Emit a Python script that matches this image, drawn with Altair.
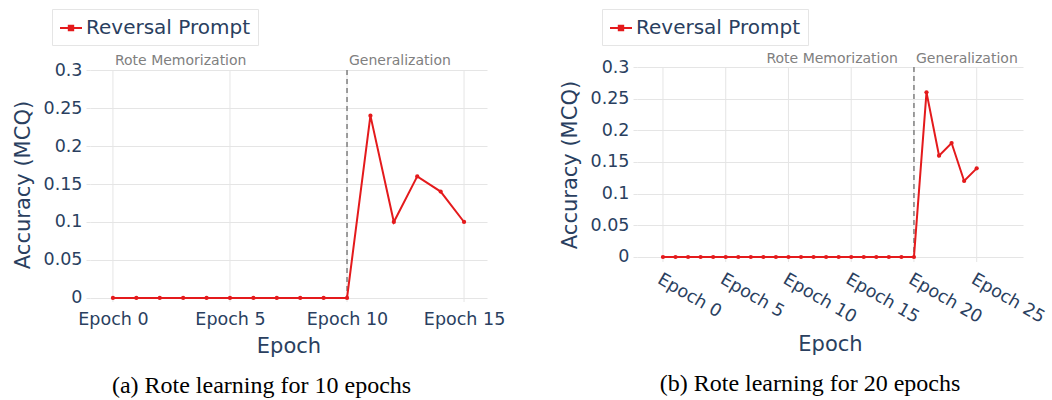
import altair as alt
import pandas as pd

# ---- data ----
series_name = "Reversal Prompt"

epochs_a = [0, 1, 2, 3, 4, 5, 6, 7, 8, 9, 10, 11, 12, 13, 14, 15]
acc_a = [0, 0, 0, 0, 0, 0, 0, 0, 0, 0, 0, 0.24, 0.10, 0.16, 0.14, 0.10]

epochs_b = [0, 1, 2, 3, 4, 5, 6, 7, 8, 9, 10, 11, 12, 13, 14, 15, 16, 17, 18, 19, 20,
            21, 22, 23, 24, 25]
acc_b = [0, 0, 0, 0, 0, 0, 0, 0, 0, 0, 0, 0, 0, 0, 0, 0, 0, 0, 0, 0, 0,
         0.26, 0.16, 0.18, 0.12, 0.14]

ticks_a = [0, 5, 10, 15]
ticks_b = [0, 5, 10, 15, 20, 25]
y_ticks = [0, 0.05, 0.1, 0.15, 0.2, 0.25, 0.3]

split_a = 10
split_b = 20
caption_a = "(a) Rote learning for 10 epochs"
caption_b = "(b) Rote learning for 20 epochs"
phase_left = "Rote Memorization"
phase_right = "Generalization"

RED = "#e41a1c"
FG = "#2a3f5f"
GRID = "#e5e5e5"
FONT = "DejaVu Sans"

legend_path = "M-1,0H1M-0.2,-0.2H0.2V0.2H-0.2Z"


def panel(epochs, acc, ticks, split, x_domain, y_domain, width, height,
          label_angle, caption, cap_dx, rote_x, rote_align, rote_dx, text_dy,
          legend_x, legend_y):
    df = pd.DataFrame({"epoch": epochs, "acc": acc, "series": [series_name] * len(epochs)})
    xs = alt.Scale(domain=x_domain, nice=False, zero=False)
    ys = alt.Scale(domain=y_domain, nice=False, zero=False)

    x_axis = alt.Axis(values=ticks, labelExpr="'Epoch ' + datum.value", grid=False,
                      ticks=False, domain=False, title="Epoch", labelAngle=label_angle,
                      labelPadding=8, titlePadding=8, labelOverlap=False,
                      labelAlign="left" if label_angle else "center",
                      labelBaseline="top")
    y_axis = alt.Axis(values=y_ticks, format="~g", title="Accuracy (MCQ)", grid=True,
                      gridColor=GRID, domain=False, tickSize=4, tickColor=GRID,
                      labelPadding=4, titlePadding=10, labelOverlap=False,
                      tickCount=7)

    grid_df = pd.DataFrame({"epoch": ticks})
    vgrid = alt.Chart(grid_df).mark_rule(color=GRID, strokeWidth=1).encode(
        x=alt.X("epoch:Q", scale=xs, axis=x_axis),
        y=alt.datum(0.3, scale=ys, axis=y_axis),
        y2=alt.value(height),
    )

    split_df = pd.DataFrame({"epoch": [split]})
    vline = alt.Chart(split_df).mark_rule(color="#7f7f7f", strokeWidth=1.5,
                                          strokeDash=[5, 4]).encode(
        x=alt.X("epoch:Q", scale=xs, axis=x_axis),
        y=alt.datum(0.3, scale=ys, axis=y_axis),
        y2=alt.datum(0),
    )

    line = alt.Chart(df).mark_line(
        strokeWidth=2,
        point=alt.OverlayMarkDef(size=18, filled=True, opacity=1),
    ).encode(
        x=alt.X("epoch:Q", scale=xs, axis=x_axis),
        y=alt.Y("acc:Q", scale=ys, axis=y_axis),
        color=alt.Color("series:N", scale=alt.Scale(domain=[series_name], range=[RED]),
                        legend=alt.Legend(
                            title=None, orient="none", legendX=legend_x, legendY=legend_y,
                            padding=7, strokeColor=GRID, fillColor="white",
                            labelFont=FONT, labelFontSize=20, labelColor=FG,
                            labelLimit=0,
                            labelOffset=3, symbolType=legend_path, symbolSize=484,
                            symbolStrokeWidth=2, symbolFillColor=RED,
                            symbolStrokeColor=RED, symbolOpacity=1)),
    )

    ann_df = pd.DataFrame({"epoch": [rote_x], "txt": [phase_left]})
    ann1 = alt.Chart(ann_df).mark_text(
        align=rote_align, baseline="alphabetic", dx=rote_dx, dy=text_dy,
        font=FONT, fontSize=14, color="#808080",
    ).encode(x=alt.X("epoch:Q", scale=xs, axis=x_axis),
             y=alt.datum(0.3, scale=ys, axis=y_axis), text="txt:N")

    ann2_df = pd.DataFrame({"epoch": [split], "txt": [phase_right]})
    ann2 = alt.Chart(ann2_df).mark_text(
        align="left", baseline="alphabetic", dx=2, dy=text_dy,
        font=FONT, fontSize=14, color="#808080",
    ).encode(x=alt.X("epoch:Q", scale=xs, axis=x_axis),
             y=alt.datum(0.3, scale=ys, axis=y_axis), text="txt:N")

    return alt.layer(vgrid, vline, line, ann1, ann2).properties(
        width=width, height=height,
        title=alt.TitleParams(caption, orient="bottom", font="Liberation Serif",
                              fontSize=24, fontWeight="normal", color="black",
                              anchor="middle", dx=cap_dx, offset=17),
    )


pa = panel(epochs_a, acc_a, ticks_a, split_a, [-0.98, 15.98], [-0.0053, 0.304],
           397, 235, 0, caption_a, -27, 0, "left", 2, -5, -38, -58)
pb = panel(epochs_b, acc_b, ticks_b, split_b, [-2.07, 28.69], [-0.0079, 0.3],
           386, 195, 30, caption_b, -20, split_b, "right", -16, -4, -35, -58)

chart = alt.hconcat(pa, pb, spacing=150, bounds="flush").resolve_scale(
    color="independent").resolve_legend(color="independent").configure_view(
    stroke=None).configure_axis(
    labelFont=FONT, labelFontSize=17.5, labelColor=FG,
    titleFont=FONT, titleFontSize=21, titleColor=FG, titleFontWeight="normal",
).properties(padding={"left": 12, "top": 8, "right": 0, "bottom": 0})

chart.save("out.html", embed_options={"renderer": "svg", "actions": False})
